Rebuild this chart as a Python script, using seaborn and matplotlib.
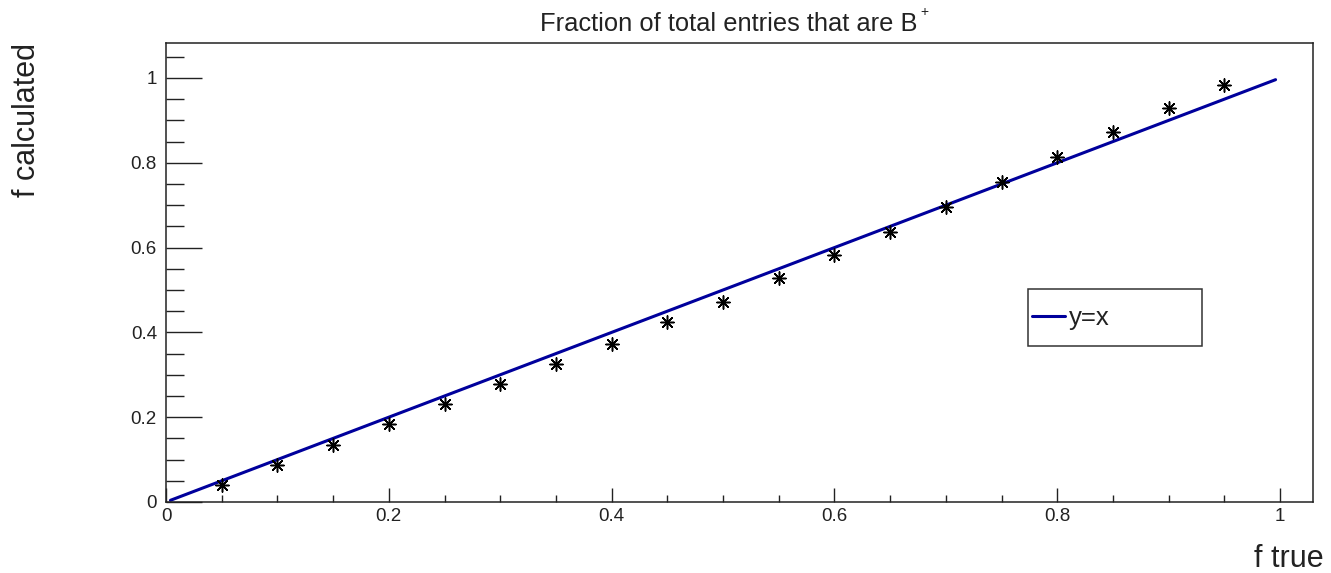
import matplotlib
matplotlib.use("Agg")
import matplotlib.pyplot as plt
from matplotlib.ticker import MultipleLocator, FuncFormatter
from matplotlib.patches import Rectangle
import seaborn as sns
import pandas as pd

# Measured fraction versus the true fraction
f_true = [0.05, 0.10, 0.15, 0.20, 0.25, 0.30, 0.35, 0.40, 0.45, 0.50,
          0.55, 0.60, 0.65, 0.70, 0.75, 0.80, 0.85, 0.90, 0.95]
f_calc = [0.040, 0.087, 0.134, 0.183, 0.231, 0.278, 0.326, 0.373, 0.425, 0.472,
          0.528, 0.582, 0.636, 0.695, 0.755, 0.814, 0.873, 0.930, 0.983]

# Reference diagonal y = x
diag_x = [0.004, 0.996]
diag_y = [0.004, 0.996]

sns.set_theme(style="white")
plt.rcParams["font.family"] = ["Liberation Sans", "DejaVu Sans"]

W, H = 1331, 573
fig = plt.figure(figsize=(W / 100, H / 100), dpi=100)
fig.patch.set_facecolor("white")
ax = fig.add_axes([166 / W, (H - 502) / H, (1313 - 166) / W, (502 - 43) / H])
ax.set_facecolor("white")

pts = pd.DataFrame({"f_true": f_true, "f_calc": f_calc})
line = pd.DataFrame({"x": diag_x, "y": diag_y})

sns.lineplot(data=line, x="x", y="y", ax=ax, color="#00009c", linewidth=2.2,
             label="y=x", legend=False)
sns.scatterplot(data=pts, x="f_true", y="f_calc", ax=ax, marker=(8, 2, 0),
                s=90, color="black", linewidth=1.1, zorder=3, legend=False)

ax.set_xlim(0, 1.0296)
ax.set_ylim(0, 1.0825)
ax.set_xlabel("")
ax.set_ylabel("")

ax.xaxis.set_major_locator(MultipleLocator(0.2))
ax.xaxis.set_minor_locator(MultipleLocator(0.05))
ax.yaxis.set_major_locator(MultipleLocator(0.2))
ax.yaxis.set_minor_locator(MultipleLocator(0.05))
fmt = FuncFormatter(lambda v, _: "0" if abs(v) < 1e-9 else ("1" if abs(v - 1) < 1e-9 else f"{v:.1f}"))
ax.xaxis.set_major_formatter(fmt)
ax.yaxis.set_major_formatter(fmt)

ax.tick_params(axis="x", which="major", direction="in", length=10, width=1.0,
               color="#222222", labelsize=13.5, pad=4, labelcolor="#222222",
               top=False, bottom=True)
ax.tick_params(axis="x", which="minor", direction="in", length=5, width=1.0,
               color="#222222", top=False, bottom=True)
ax.tick_params(axis="y", which="major", direction="in", length=26, width=1.0,
               color="#222222", labelsize=13.5, pad=6.5, labelcolor="#222222",
               right=False, left=True)
ax.tick_params(axis="y", which="minor", direction="in", length=13, width=1.0,
               color="#222222", right=False, left=True)

for sp in ax.spines.values():
    sp.set_visible(True)
    sp.set_color("#222222")
    sp.set_linewidth(1.1)

# Legend box, drawn beneath the legend entries
ax.add_patch(Rectangle((1028 / W, (H - 346) / H), (1202 - 1028) / W, (346 - 289) / H,
                       transform=fig.transFigure, facecolor="white",
                       edgecolor="#333333", linewidth=1.1, zorder=5, clip_on=False))
leg = ax.legend(loc="center left", bbox_to_anchor=(1032 / W, (H - 318) / H),
                bbox_transform=fig.transFigure, frameon=False, fontsize=18.5,
                handlelength=1.3, handletextpad=0.15, borderpad=0, borderaxespad=0)
leg.set_zorder(6)
for t in leg.get_texts():
    t.set_color("#222222")

fig.text(729 / W, (H - 31) / H, "Fraction of total entries that are B",
         ha="center", va="baseline", fontsize=18.4, color="#222222")
fig.text(920 / W, (H - 16) / H, "+", ha="left", va="baseline",
         fontsize=10, color="#222222")
fig.text(1324 / W, (H - 567) / H, "f true", ha="right", va="baseline",
         fontsize=22, color="#222222")
fig.text(27 / W, (H - 43) / H, "f calculated", ha="center", va="top",
         rotation=90, fontsize=22, color="#222222")

fig.savefig("out.png", dpi=100, facecolor="white")
